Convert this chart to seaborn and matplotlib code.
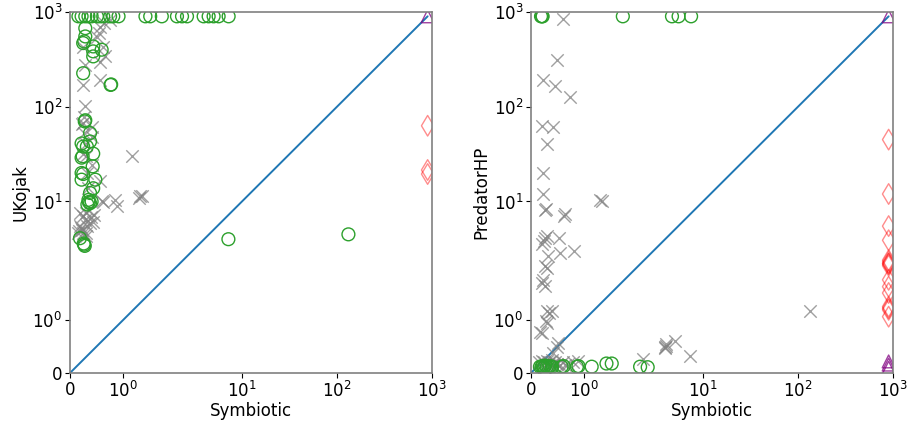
import numpy as np
import pandas as pd
import matplotlib
matplotlib.use("Agg")
import matplotlib.pyplot as plt
import seaborn as sns
from matplotlib.ticker import FixedLocator, NullLocator

sns.set_style("white")
plt.rcParams['font.family'] = ['DejaVu Sans']
plt.rcParams['text.color'] = 'black'
plt.rcParams['axes.labelcolor'] = 'black'
plt.rcParams['xtick.color'] = 'black'
plt.rcParams['ytick.color'] = 'black'

TIMEOUT = 900
ticks = [0, 1, 10, 100, 1000]

# ---- Symbiotic vs UKojak ----
uk_both_x = [0.76, 0.57, 0.65, 0.51, 0.55, 0.63, 0.25, 0.57, 0.67, 0.28, 0.25, 0.57, 0.28, 0.24, 0.22,
             0.26, 0.41, 0.26, 0.41, 0.25, 0.30, 1.17, 1.33, 1.36, 1.30, 0.57, 0.60, 0.63, 0.86, 0.89,
             0.19, 0.25, 0.30, 0.35, 0.28, 0.38, 0.44, 0.19, 0.22, 0.16, 0.25, 0.30, 0.30, 0.20, 0.18,
             0.40, 0.45, 0.33, 0.35, 0.30, 0.42, 0.33]
uk_both_y = [820, 700, 760, 550, 600, 430, 430, 300, 340, 276, 170, 190, 101, 67, 65,
             78, 61, 53, 48, 32, 30, 30, 11.3, 11.5, 11.0, 16.3, 10, 9.8, 10.4, 8.9,
             7.6, 7.0, 7.6, 8.2, 6.4, 5.9, 6.1, 5.5, 5.0, 4.6, 4.6, 4.6, 4.3, 5.2, 4.9,
             6.8, 7.2, 5.5, 14, 40, 24, 20]

uk_only_x = [0.29, 0.29, 0.27, 0.25, 0.44, 0.44, 0.60, 0.44, 0.25, 0.77, 0.78, 0.28, 0.29, 0.38,
             0.22, 0.32, 0.38, 0.44, 0.25, 0.24, 0.22, 0.43, 0.22, 0.25, 0.22, 0.48, 0.44, 0.38,
             0.35, 0.38, 0.33, 0.41, 0.36, 0.27, 0.28, 0.26, 0.19, 7.2, 132,
             0.16, 0.22, 0.29, 0.35, 0.41, 0.51, 0.57, 0.63, 0.76, 0.82, 0.92, 1.43, 1.52, 1.74,
             2.07, 2.34, 2.64, 3.95, 4.46, 5.03, 5.68, 7.24]
uk_only_y = [675, 552, 489, 470, 433, 384, 400, 340, 226, 170, 172, 70, 72, 52.7,
             41, 38, 43, 32, 38, 30, 29, 23.5, 20, 19.5, 17, 17, 13.8, 12.3,
             10.4, 9.6, 9.3, 10, 9.9, 3.5, 3.4, 3.6, 4.1, 4.0, 4.5,
             900, 900, 900, 900, 900, 900, 900, 900, 900, 900, 900, 900, 900, 900,
             900, 900, 900, 900, 900, 900, 900, 900]

uk_other_x = [900, 900, 900]
uk_other_y = [63, 21.5, 19.5]

uk_none_x = [900]
uk_none_y = [900]

# ---- Symbiotic vs PredatorHP ----
hp_both_x = [0.60, 0.49, 0.22, 0.46, 0.74, 0.20, 0.41, 0.31, 0.22, 0.22, 0.27, 0.28, 1.34, 1.31,
             0.63, 0.64, 0.20, 0.24, 0.27, 0.30, 0.54, 0.55, 0.82, 0.33, 0.27, 0.30, 0.20, 0.27,
             0.22, 0.30, 0.35, 0.39, 0.30, 0.28, 0.18, 134, 4.0, 4.05, 3.95, 4.1, 5.1, 7.3,
             2.34, 0.52, 0.49, 0.42, 0.20,
             0.15, 0.20, 0.25, 0.30, 0.35, 0.40, 0.45, 0.50, 0.60, 0.70, 0.80, 0.90, 0.28, 0.32,
             0.38, 0.42, 0.26, 0.24, 0.55, 0.65]
hp_both_y = [841, 308, 190, 166, 128, 63, 61, 40, 20, 12, 8.1, 8.3, 10, 10.3,
             7.1, 7.3, 3.6, 3.8, 4.1, 4.3, 4.1, 2.86, 2.98, 2.64, 2.07, 2.0, 1.71, 1.65,
             1.77, 1.17, 1.14, 1.17, 0.95, 0.98, 0.78, 1.17, 0.5, 0.52, 0.47, 0.55, 0.60, 0.33,
             0.27, 0.57, 0.50, 0.38, 0.76,
             0.20, 0.22, 0.20, 0.22, 0.20, 0.24, 0.20, 0.18, 0.20, 0.18, 0.20, 0.22, 0.15, 0.17,
             0.15, 0.16, 0.10, 0.12, 0.15, 0.16]

hp_only_x = [0.17, 0.20, 0.22, 0.25, 0.27, 0.30, 0.33, 0.36, 0.40, 0.24, 0.58, 0.62, 0.87, 0.90,
             1.15, 1.43, 1.53, 2.18, 2.62,
             0.19, 0.21, 0.22, 1.74, 4.72, 5.54, 7.5]
hp_only_y = [0.12, 0.12, 0.13, 0.12, 0.14, 0.12, 0.12, 0.13, 0.12, 0.10, 0.12, 0.13, 0.12, 0.13,
             0.12, 0.18, 0.18, 0.12, 0.11,
             900, 900, 900, 900, 900, 900, 900]

hp_other_x = [900] * 16
hp_other_y = [45, 12, 5.5, 3.9, 2.1, 2.2, 2.3, 2.4, 2.2, 1.77, 1.64, 1.52, 1.26, 1.2, 1.23, 1.07]

hp_none_x = [900, 900, 900, 900]
hp_none_y = [900, 0.10, 0.16, 0.22]

panels = [
    ("UKojak", uk_both_x, uk_both_y, uk_only_x, uk_only_y, uk_other_x, uk_other_y, uk_none_x, uk_none_y),
    ("PredatorHP", hp_both_x, hp_both_y, hp_only_x, hp_only_y, hp_other_x, hp_other_y, hp_none_x, hp_none_y),
]

fig = plt.figure(figsize=(9.1, 4.24), dpi=100)
boxes = [[0.0769, 0.1203, 0.3978, 0.8514], [0.5835, 0.1203, 0.3978, 0.8514]]

for box, (name, bx, by, ox, oy, tx, ty, nx, ny) in zip(boxes, panels):
    ax = fig.add_axes(box)
    ax.set_xscale('symlog', linthresh=2, linscale=1)
    ax.set_yscale('symlog', linthresh=2, linscale=1)

    ax.plot([0, TIMEOUT], [0, TIMEOUT], color='tab:blue', lw=1.4, zorder=1)

    sns.scatterplot(x=bx, y=by, ax=ax, marker='x', s=80, color='gray', alpha=0.75, linewidth=1)
    sns.scatterplot(x=ox, y=oy, ax=ax, marker='o', s=85, fc='none', ec='tab:green', linewidth=1)
    sns.scatterplot(x=tx, y=ty, ax=ax, marker='d', s=110, fc='none', ec='red', alpha=0.45, linewidth=1)
    sns.scatterplot(x=nx, y=ny, ax=ax, marker='^', s=85, fc='none', ec='purple', alpha=0.75, linewidth=1)

    ax.set_xlim(0, 1000)
    ax.set_ylim(0, 1000)
    for axis in (ax.xaxis, ax.yaxis):
        axis.set_major_locator(FixedLocator(ticks))
        axis.set_minor_locator(NullLocator())
    ax.tick_params(axis='both', labelsize=12, length=3.5, width=0.8, direction='out',
                   bottom=True, left=True, pad=2)
    for sp in ax.spines.values():
        sp.set_color('gray')
        sp.set_linewidth(1.2)
    ax.set_xlabel("Symbiotic", fontsize=12, labelpad=1)
    ax.set_ylabel(name, fontsize=12, labelpad=2)

fig.savefig("out.png", dpi=100)
